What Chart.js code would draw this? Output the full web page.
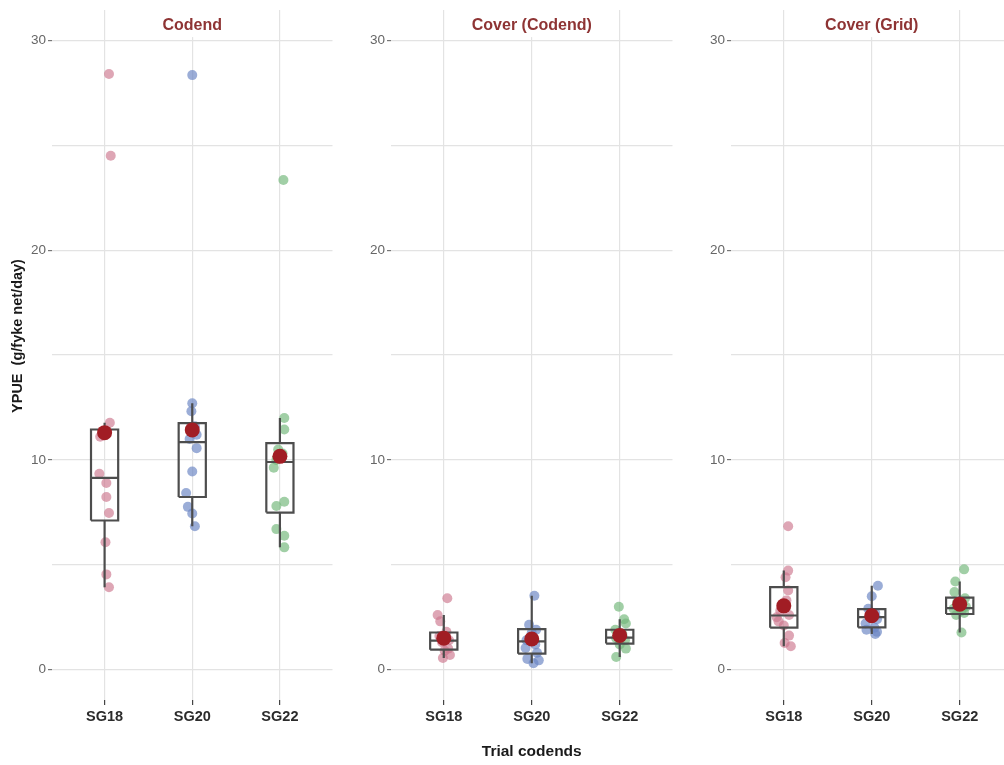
<!DOCTYPE html>
<html>
<head>
<meta charset="utf-8">
<script src="https://cdn.jsdelivr.net/npm/chart.js@4.4.1/dist/chart.umd.min.js"></script>
<style>
  html, body { margin: 0; padding: 0; background: #fff; overflow: hidden; }
  body { width: 1004px; height: 765px; position: relative; }
  canvas { position: absolute; top: 0; }
</style>
</head>
<body>
<canvas id="panel0" width="340" height="765" style="left:0px"></canvas>
<canvas id="panel1" width="340" height="765" style="left:340px"></canvas>
<canvas id="panel2" width="340" height="765" style="left:680px"></canvas>
<script>
// ----------- DATA -----------
const categories = ['SG18', 'SG20', 'SG22'];
const panelTitles = ['Codend', 'Cover (Codend)', 'Cover (Grid)'];
const yGridValues = [0, 5, 10, 15, 20, 25, 30];

// individual observations (one array per trial codend)
const codendValues = [
  [28.4, 24.5, 11.77, 11.3, 11.1, 9.34, 8.9, 8.23, 7.47, 6.07, 4.54, 3.93],
  [28.35, 12.7, 12.32, 11.6, 11.2, 11.0, 10.56, 9.45, 8.42, 7.76, 7.44, 6.84],
  [23.35, 12.0, 11.45, 10.5, 10.3, 10.0, 9.63, 8.0, 7.8, 6.7, 6.38, 5.83]
];
const coverCodendValues = [
  [3.4, 2.6, 2.3, 1.8, 1.6, 1.4, 1.3, 1.0, 0.9, 0.7, 0.55],
  [3.52, 2.14, 1.9, 1.76, 1.4, 1.2, 1.03, 0.8, 0.51, 0.44, 0.3],
  [3.0, 2.4, 2.2, 1.9, 1.7, 1.5, 1.4, 1.2, 1.0, 0.6]
];
const coverGridValues = [
  [6.84, 4.72, 4.4, 3.77, 3.3, 2.8, 2.6, 2.5, 2.3, 2.1, 1.62, 1.27, 1.11],
  [4.0, 3.5, 2.9, 2.7, 2.5, 2.4, 2.2, 2.0, 1.9, 1.8, 1.7],
  [4.78, 4.2, 3.7, 3.4, 3.2, 3.0, 2.9, 2.8, 2.7, 2.6, 1.77]
];

// horizontal jitter of each observation, in category units
const codendJitter = [
  [0.05, 0.07, 0.06, 0.0, -0.05, -0.06, 0.02, 0.02, 0.05, 0.01, 0.02, 0.05],
  [0.0, 0.0, -0.01, 0.03, 0.05, -0.03, 0.05, 0.0, -0.07, -0.05, 0.0, 0.03],
  [0.04, 0.05, 0.05, -0.02, 0.03, -0.04, -0.07, 0.05, -0.04, -0.04, 0.05, 0.05]
];
const coverCodendJitter = [
  [0.04, -0.07, -0.04, 0.03, -0.05, 0.06, -0.02, 0.05, 0.01, 0.07, -0.01],
  [0.03, -0.03, 0.05, 0.0, -0.06, 0.04, -0.07, 0.06, -0.05, 0.08, 0.02],
  [-0.01, 0.05, 0.07, -0.05, 0.03, -0.04, 0.06, 0.0, 0.07, -0.04]
];
const coverGridJitter = [
  [0.05, 0.05, 0.02, 0.05, 0.03, -0.04, 0.06, -0.08, -0.06, 0.0, 0.06, 0.01, 0.08],
  [0.07, 0.0, -0.04, 0.04, -0.02, 0.06, -0.07, 0.03, -0.06, 0.06, 0.04],
  [0.05, -0.05, -0.06, 0.06, -0.03, 0.07, -0.07, 0.02, 0.05, -0.04, 0.02]
];

// box plot summaries [panel][codend]
const boxQ1 =       [[7.11, 8.23, 7.49], [0.95, 0.76, 1.24], [2.0, 2.01, 2.65]];
const boxMedian =   [[9.14, 10.85, 9.9], [1.38, 1.35, 1.52], [2.58, 2.5, 2.93]];
const boxQ3 =       [[11.45, 11.75, 10.8], [1.77, 1.93, 1.9], [3.93, 2.88, 3.43]];
const whiskerLow =  [[3.93, 6.84, 5.83], [0.55, 0.3, 0.6], [1.11, 1.7, 1.77]];
const whiskerHigh = [[11.77, 12.7, 12.0], [2.6, 3.52, 2.4], [4.72, 4.0, 4.2]];
const groupMean =   [[11.3, 11.43, 10.17], [1.5, 1.46, 1.63], [3.04, 2.57, 3.12]];

const panelValues = [codendValues, coverCodendValues, coverGridValues];
const panelJitter = [codendJitter, coverCodendJitter, coverGridJitter];

// ----------- STYLE -----------
const pointColors = ['rgba(205,118,142,0.65)', 'rgba(108,134,196,0.68)', 'rgba(116,184,124,0.68)'];
const meanColor = '#a11d24';
const boxColor = '#4d4d4d';
const gridColor = '#e3e3e3';
const titleColor = '#8e3434';
const BOX_HALF = 0.155;
const FONT = "'Liberation Sans', Arial, sans-serif";

// ----------- DATASETS -----------
function lineSet(pts) {
  return {
    type: 'scatter', data: pts, showLine: true, fill: false,
    borderColor: boxColor, borderWidth: 2.2, pointRadius: 0, order: 1
  };
}

function buildDatasets(p) {
  const sets = [];
  categories.forEach((cat, i) => {
    const x = i + 1;
    // observations
    sets.push({
      type: 'scatter',
      data: panelValues[p][i].map((v, k) => ({ x: x + panelJitter[p][i][k], y: v })),
      backgroundColor: pointColors[i], borderWidth: 0, pointRadius: 5, order: 2
    });
    // box + whiskers
    sets.push(lineSet([
      { x: x - BOX_HALF, y: boxQ1[p][i] }, { x: x + BOX_HALF, y: boxQ1[p][i] },
      { x: x + BOX_HALF, y: boxQ3[p][i] }, { x: x - BOX_HALF, y: boxQ3[p][i] },
      { x: x - BOX_HALF, y: boxQ1[p][i] }
    ]));
    sets.push(lineSet([{ x: x - BOX_HALF, y: boxMedian[p][i] }, { x: x + BOX_HALF, y: boxMedian[p][i] }]));
    sets.push(lineSet([{ x: x, y: boxQ3[p][i] }, { x: x, y: whiskerHigh[p][i] }]));
    sets.push(lineSet([{ x: x, y: boxQ1[p][i] }, { x: x, y: whiskerLow[p][i] }]));
    // mean
    sets.push({
      type: 'scatter', data: [{ x: x, y: groupMean[p][i] }],
      backgroundColor: meanColor, borderWidth: 0, pointRadius: 7.5, order: 0
    });
  });
  return sets;
}

// ----------- PLUGINS -----------
const panelTitlePlugin = {
  id: 'panelTitle',
  afterDraw(chart, args, opts) {
    const { ctx, chartArea } = chart;
    const cx = (chartArea.left + chartArea.right) / 2;
    ctx.save();
    ctx.font = 'bold 16px ' + FONT;
    const w = ctx.measureText(opts.text).width;
    ctx.fillStyle = '#fff';
    ctx.fillRect(cx - w / 2 - 6, chartArea.top, w + 12, 27);
    ctx.fillStyle = titleColor;
    ctx.textAlign = 'center';
    ctx.textBaseline = 'middle';
    ctx.fillText(opts.text, cx, 26);
    ctx.restore();
  }
};

const yTitlePlugin = {
  id: 'yTitle',
  afterDraw(chart, args, opts) {
    if (!opts.text) return;
    const ctx = chart.ctx;
    ctx.save();
    ctx.translate(18, 336);
    ctx.rotate(-Math.PI / 2);
    ctx.font = 'bold 14.5px ' + FONT;
    ctx.fillStyle = '#1a1a1a';
    ctx.textAlign = 'center';
    ctx.textBaseline = 'middle';
    ctx.fillText(opts.text, 0, 0);
    ctx.restore();
  }
};

// ----------- CHARTS -----------
function makePanel(p) {
  const axisWidth = p === 0 ? 52 : 51;
  return new Chart(document.getElementById('panel' + p), {
    type: 'scatter',
    data: { datasets: buildDatasets(p) },
    options: {
      responsive: false,
      animation: false,
      layout: { padding: { top: 7, right: 340 - axisWidth - 283.2, left: 0, bottom: 0 } },
      plugins: {
        legend: { display: false },
        tooltip: { enabled: false },
        panelTitle: { text: panelTitles[p] },
        yTitle: { text: p === 0 ? 'YPUE  (g/fyke net/day)' : '' }
      },
      scales: {
        x: {
          type: 'linear', min: 0.4, max: 3.6,
          afterBuildTicks: s => { s.ticks = categories.map((c, i) => ({ value: i + 1 })); },
          afterFit: s => { s.height = 65; },
          ticks: {
            callback: v => categories[Math.round(v) - 1],
            color: '#2b2b2b', padding: 3,
            font: { family: FONT, size: 14.5, weight: 'bold' },
            maxRotation: 0
          },
          grid: { color: gridColor, lineWidth: 1.2, tickLength: 5, tickColor: '#444' },
          border: { display: false },
          title: {
            display: p === 1, text: 'Trial codends', color: '#1a1a1a',
            font: { family: FONT, size: 15.5, weight: 'bold' },
            padding: { top: 0, bottom: 4 }
          }
        },
        y: {
          type: 'linear', min: -1.45, max: 31.45,
          afterBuildTicks: s => { s.ticks = yGridValues.map(v => ({ value: v })); },
          afterFit: s => { s.width = axisWidth; },
          ticks: {
            callback: v => (v % 10 === 0 ? v : ''),
            color: '#666', padding: 2,
            font: { family: FONT, size: 13.5 }
          },
          grid: {
            color: gridColor, lineWidth: 1.2, tickLength: 4,
            tickColor: c => (c.tick && c.tick.value % 10 === 0 ? '#777' : 'rgba(0,0,0,0)')
          },
          border: { display: false }
        }
      }
    },
    plugins: [panelTitlePlugin, yTitlePlugin]
  });
}

[0, 1, 2].forEach(makePanel);
</script>
</body>
</html>
